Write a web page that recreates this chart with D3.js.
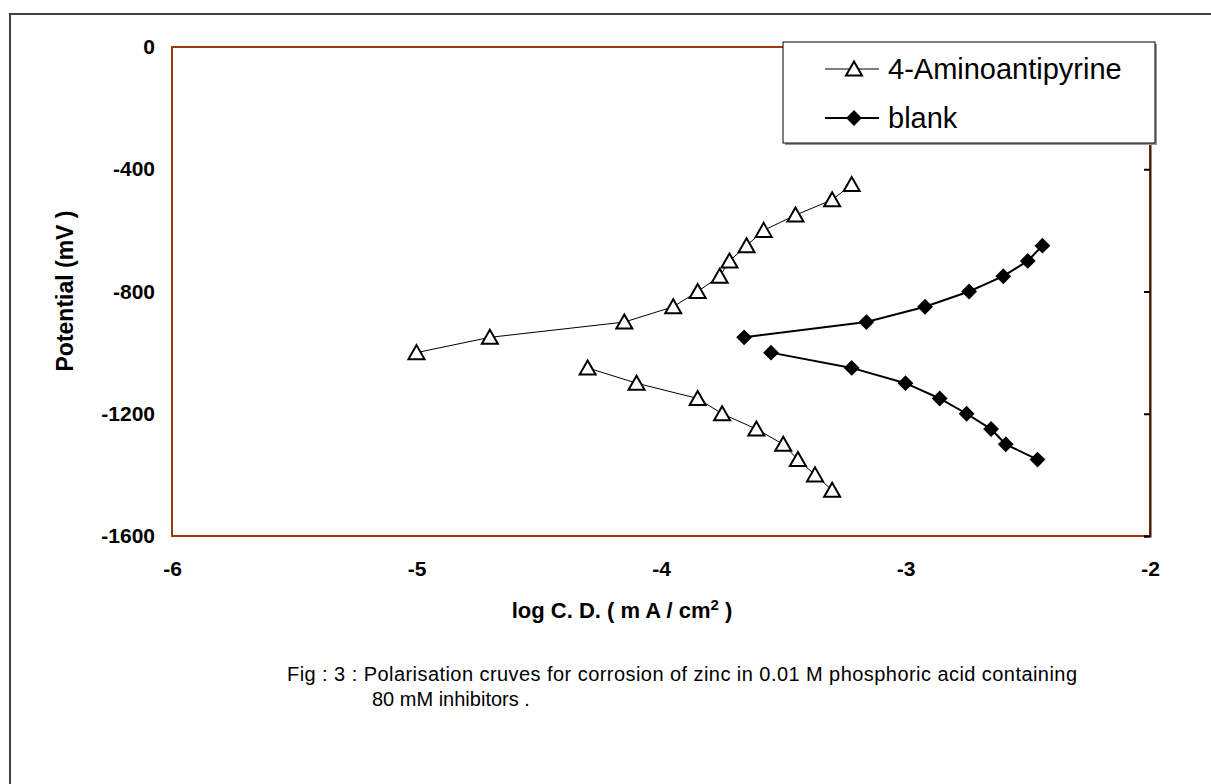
<!DOCTYPE html>
<html>
<head>
<meta charset="utf-8">
<script src="https://cdn.jsdelivr.net/npm/d3@7"></script>
<style>
    html, body { margin: 0; padding: 0; background: #fff; }
    svg { display: block; font-family: "Liberation Sans", Arial, sans-serif; }
</style>
</head>
<body>
<div id="myChart"></div>
<script>

// tick values
const xTicks = [-6, -5, -4, -3, -2];
const yTicks = [0, -400, -800, -1200, -1600];

// 4-Aminoantipyrine, anodic and cathodic branches (log C.D. / potential mV)
const aminoUpperLogI = [-5.0, -4.7, -4.15, -3.95, -3.85, -3.76, -3.72, -3.65, -3.58, -3.45, -3.30, -3.22];
const aminoUpperE = [-1000, -950, -900, -850, -800, -750, -700, -650, -600, -550, -500, -450];
const aminoLowerLogI = [-4.3, -4.1, -3.85, -3.75, -3.61, -3.5, -3.44, -3.37, -3.3];
const aminoLowerE = [-1050, -1100, -1150, -1200, -1250, -1300, -1350, -1400, -1450];

// blank
const blankUpperLogI = [-3.66, -3.16, -2.92, -2.74, -2.60, -2.50, -2.44];
const blankUpperE = [-950, -900, -850, -800, -750, -700, -650];
const blankLowerLogI = [-3.55, -3.22, -3.00, -2.86, -2.75, -2.65, -2.59, -2.46];
const blankLowerE = [-1000, -1050, -1100, -1150, -1200, -1250, -1300, -1350];

const seriesNames = ["4-Aminoantipyrine", "blank"];

const size = {
    width: 1211,
    height: 784,
    plot: { left: 172, top: 47, right: 1150, bottom: 536 },
    legend: { x: 783, y: 42, width: 372, height: 101 },
};

const zip = (xs, ys) => xs.map((x, i) => [x, ys[i]]);

const drawChart = function(size) {

    const svg = d3.select("#myChart")
    .append("svg")
    .attr("width", size.width)
    .attr("height", size.height);

    // outer frame
    svg.append("rect")
    .attr("x", 10).attr("y", 14)
    .attr("width", size.width + 20).attr("height", size.height + 20)
    .attr("fill", "none")
    .attr("stroke", "#404040")
    .attr("stroke-width", 2);

    const x = d3.scaleLinear()
    .domain([-6, -2])
    .range([size.plot.left, size.plot.right]);

    const y = d3.scaleLinear()
    .domain([-1600, 0])
    .range([size.plot.bottom, size.plot.top]);

    // plot area border
    svg.append("rect")
    .attr("x", size.plot.left).attr("y", size.plot.top)
    .attr("width", size.plot.right - size.plot.left)
    .attr("height", size.plot.bottom - size.plot.top)
    .attr("fill", "none")
    .attr("stroke", "#9c3a0c")
    .attr("stroke-width", 2);

    // y axis sits on the right edge, ticks pointing inward
    const yAxisRight = svg.append("g")
    .attr("transform", `translate(${size.plot.right}, 0)`)
    .call(d3.axisLeft(y).tickValues(yTicks).tickSize(6).tickFormat(""));
    yAxisRight.select(".domain").attr("stroke", "#3a1a08").attr("stroke-width", 2);
    yAxisRight.selectAll(".tick line").attr("stroke", "#000").attr("stroke-width", 2);

    // plain hyphen minus, like the original
    const fmt = (d) => `${d}`;

    // y tick labels on the left
    const yLabels = svg.append("g")
    .attr("transform", `translate(${size.plot.left}, 0)`)
    .call(d3.axisLeft(y).tickValues(yTicks).tickSize(0).tickPadding(17).tickFormat(fmt));
    yLabels.select(".domain").remove();
    yLabels.selectAll("text")
    .attr("font-family", "Liberation Sans, Arial, sans-serif")
    .attr("font-size", 21).attr("font-weight", "bold").attr("fill", "#000");

    // x tick labels
    const xLabels = svg.append("g")
    .attr("transform", `translate(0, ${size.plot.bottom})`)
    .call(d3.axisBottom(x).tickValues(xTicks).tickSize(0).tickPadding(25).tickFormat(fmt));
    xLabels.select(".domain").remove();
    xLabels.selectAll("text")
    .attr("font-family", "Liberation Sans, Arial, sans-serif")
    .attr("font-size", 21).attr("font-weight", "bold").attr("fill", "#000");

    // axis titles
    const xTitle = svg.append("text")
    .attr("x", 622).attr("y", 618)
    .attr("text-anchor", "middle")
    .attr("font-size", 22).attr("font-weight", "bold");
    xTitle.append("tspan").text("log C. D. ( m A / cm");
    xTitle.append("tspan").attr("dy", -8).attr("font-size", 15).text("2");
    xTitle.append("tspan").attr("dy", 8).text(" )");

    svg.append("text")
    .attr("transform", "translate(73, 291) rotate(-90)")
    .attr("text-anchor", "middle")
    .attr("font-size", 23).attr("font-weight", "bold")
    .text("Potential (mV )");

    // markers
    const triangle = "M0,-7.5L8,6.5L-8,6.5Z";
    const diamond = "M0,-6.5L6.5,0L0,6.5L-6.5,0Z";

    const line = d3.line().x((d) => x(d[0])).y((d) => y(d[1]));

    const series = [
        { branches: [zip(aminoUpperLogI, aminoUpperE), zip(aminoLowerLogI, aminoLowerE)], width: 1, marker: triangle, fill: "#fff" },
        { branches: [zip(blankUpperLogI, blankUpperE), zip(blankLowerLogI, blankLowerE)], width: 2, marker: diamond, fill: "#000" },
    ];

    const marks = svg.append("g");
    series.forEach((s) => {
        s.branches.forEach((pts) => {
            marks.append("path")
            .attr("d", line(pts))
            .attr("fill", "none")
            .attr("stroke", "#000")
            .attr("stroke-width", s.width);
        });
    });
    series.forEach((s) => {
        s.branches.forEach((pts) => {
            marks.selectAll(null)
            .data(pts)
            .enter().append("path")
            .attr("d", s.marker)
            .attr("transform", (d) => `translate(${x(d[0])}, ${y(d[1])})`)
            .attr("fill", s.fill)
            .attr("stroke", "#000")
            .attr("stroke-width", 2);
        });
    });

    // legend
    const lg = size.legend;
    const legend = svg.append("g").attr("transform", `translate(${lg.x}, ${lg.y})`);
    legend.append("rect")
    .attr("x", 2).attr("y", 2).attr("width", lg.width).attr("height", lg.height)
    .attr("fill", "#999");
    legend.append("rect")
    .attr("width", lg.width).attr("height", lg.height)
    .attr("fill", "#fff").attr("stroke", "#000").attr("stroke-width", 1);

    const rows = legend.selectAll("g.row")
    .data(seriesNames)
    .enter().append("g")
    .attr("transform", (d, i) => `translate(0, ${27 + i * 49})`);
    rows.append("line")
    .attr("x1", 42).attr("x2", 96)
    .attr("stroke", "#000")
    .attr("stroke-width", (d, i) => series[i].width);
    rows.append("path")
    .attr("d", (d, i) => series[i].marker)
    .attr("transform", "translate(71, 0)")
    .attr("fill", (d, i) => series[i].fill)
    .attr("stroke", "#000").attr("stroke-width", 2);
    rows.append("text")
    .attr("x", 105).attr("dy", "0.35em")
    .attr("font-size", 29)
    .text((d) => d);

    // caption
    const caption = svg.append("text").attr("font-size", 20);
    caption.append("tspan").attr("x", 287).attr("y", 681)
    .text("Fig : 3 : Polarisation cruves  for corrosion of zinc in 0.01 M phosphoric acid containing")
    .attr("textLength", 790).attr("lengthAdjust", "spacing");
    caption.append("tspan").attr("x", 372).attr("y", 706)
    .text("80 mM inhibitors .");
}

window.onload = () => {
    drawChart(size);
};
</script>
</body>
</html>
